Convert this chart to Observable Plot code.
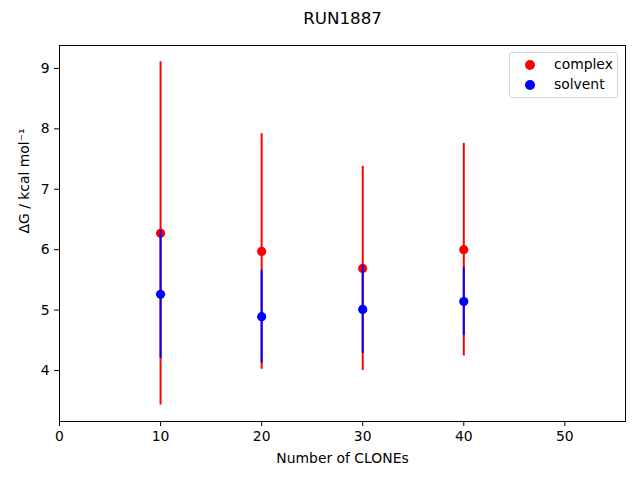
<!DOCTYPE html>
<html>
<head>
<meta charset="utf-8">
<script src="https://cdn.jsdelivr.net/npm/d3@7"></script>
<script src="https://cdn.jsdelivr.net/npm/@observablehq/plot@0.6"></script>
<style>
  body { margin: 0; background: #fff; font-family: "DejaVu Sans", sans-serif; }
  #wrap { position: relative; width: 640px; height: 480px; }
  #legend { position: absolute; left: 509px; top: 52px; width: 107px; height: 44px;
    border: 1px solid #d6d6d6; border-radius: 3px; background: rgba(255,255,255,0.8);
    font-size: 13.9px; color: #000; }
  .item { position: absolute; left: 0; height: 16px; line-height: 16px; }
  .mk { position: absolute; left: 15px; top: 3px; width: 10px; height: 10px; border-radius: 50%; }
  .lb { position: absolute; left: 44px; top: -1px; white-space: nowrap; }
</style>
</head>
<body>
<div id="wrap"></div>
<script>
const title = "RUN1887";
const xLabel = "Number of CLONEs";
const yLabel = "ΔG / kcal mol⁻¹";
const seriesNames = ["complex", "solvent"];
const seriesColors = ["#ff0000", "#0000ff"];
const clones = [10, 20, 30, 40];
const complexMean = [6.27, 5.97, 5.69, 6.00];
const complexErr = [2.84, 1.95, 1.69, 1.76];
const solventMean = [5.26, 4.89, 5.01, 5.14];
const solventErr = [1.06, 0.77, 0.73, 0.56];
const xTicks = [0, 10, 20, 30, 40, 50];
const yTicks = [4, 5, 6, 7, 8, 9];

const complex = clones.map((c, i) => ({x: c, y: complexMean[i], lo: complexMean[i] - complexErr[i], hi: complexMean[i] + complexErr[i]}));
const solvent = clones.map((c, i) => ({x: c, y: solventMean[i], lo: solventMean[i] - solventErr[i], hi: solventMean[i] + solventErr[i]}));

const chart = Plot.plot({
  width: 640, height: 480,
  marginLeft: 59, marginRight: 15, marginTop: 45, marginBottom: 59,
  style: {fontFamily: "DejaVu Sans, sans-serif", fontSize: "13.9px", color: "#000", background: "#fff"},
  x: {domain: [0, 56]},
  y: {domain: [3.155, 9.38]},
  marks: [
    Plot.axisX({ticks: xTicks, tickFormat: d3.format("d"), tickSize: 5, tickPadding: 5, label: null, stroke: "#000"}),
    Plot.axisY({ticks: yTicks, tickFormat: d3.format("d"), tickSize: 5, tickPadding: 5, label: null, stroke: "#000"}),
    Plot.ruleX(complex, {x: "x", y1: "lo", y2: "hi", stroke: seriesColors[0], strokeWidth: 2}),
    Plot.dot(complex, {x: "x", y: "y", r: 4.6, fill: seriesColors[0], stroke: "none"}),
    Plot.ruleX(solvent, {x: "x", y1: "lo", y2: "hi", stroke: seriesColors[1], strokeWidth: 2}),
    Plot.dot(solvent, {x: "x", y: "y", r: 4.6, fill: seriesColors[1], stroke: "none"}),
    Plot.frame({stroke: "#000", strokeWidth: 1}),
    Plot.text([xLabel], {text: d => d, frameAnchor: "bottom", dy: 41, fontSize: 13.9}),
    Plot.text([yLabel], {text: d => d, frameAnchor: "left", rotate: -90, dx: -35, fontSize: 13.9}),
    Plot.text([title], {text: d => d, frameAnchor: "top", dy: -33, fontSize: 16.7})
  ]
});
const wrap = document.getElementById("wrap");
wrap.appendChild(chart);
const legend = document.createElement("div");
legend.id = "legend";
seriesNames.forEach((n, i) => {
  const it = document.createElement("div");
  it.className = "item";
  it.style.top = (4 + i * 20) + "px";
  it.style.width = "100%";
  const mk = document.createElement("span");
  mk.className = "mk";
  mk.style.background = seriesColors[i];
  const lb = document.createElement("span");
  lb.className = "lb";
  lb.textContent = n;
  it.appendChild(mk); it.appendChild(lb);
  legend.appendChild(it);
});
wrap.appendChild(legend);
</script>
</body>
</html>
